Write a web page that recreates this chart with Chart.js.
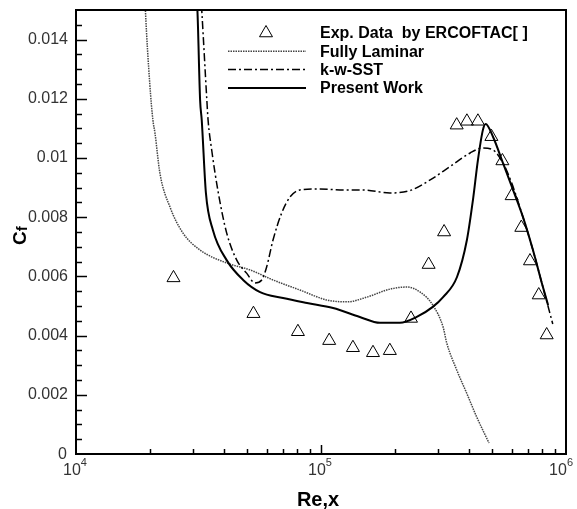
<!DOCTYPE html>
<html>
<head>
<meta charset="utf-8">
<script src="https://cdn.jsdelivr.net/npm/chart.js@4"></script>
<style>
  body { margin: 0; background: #fff; }
  canvas { display: block; }
</style>
</head>
<body>
<canvas id="cfChart" width="577" height="509"></canvas>
<script>
// experiment (ERCOFTAC) skin friction
const expRe = [2.5e4, 5.3e4, 8.05e4, 1.08e5, 1.35e5, 1.63e5, 1.91e5, 2.33e5, 2.75e5, 3.18e5,
  3.58e5, 3.94e5, 4.37e5, 4.96e5, 5.5e5, 6.0e5, 6.57e5, 7.13e5, 7.74e5, 8.34e5];
const expCf = [0.00595, 0.00474, 0.00413, 0.00383, 0.00359, 0.00342, 0.00349, 0.00458, 0.0064, 0.0075,
  0.01111, 0.01124, 0.01124, 0.01072, 0.0099, 0.00872, 0.00765, 0.00652, 0.00537, 0.00402];

// fully laminar run
const lamRe = [1.9e4, 1.92e4, 2.0e4, 2.06e4, 2.1e4, 2.2e4, 2.42e4, 2.73e4, 3.21e4, 4.13e4, 5.13e4,
  6.37e4, 8.2e4, 1.06e5, 1.28e5, 1.54e5, 1.91e5, 2.24e5, 2.54e5, 2.86e5, 3.15e5, 3.26e5,
  3.58e5, 3.93e5, 4.32e5, 4.85e5];
const lamCf = [0.016, 0.015, 0.01252, 0.01128, 0.01085, 0.00949, 0.00834, 0.00747, 0.00689, 0.00645, 0.00622,
  0.00588, 0.00554, 0.0052, 0.00514, 0.0053, 0.00557, 0.00564, 0.00547, 0.00503, 0.00429, 0.00375,
  0.00284, 0.00206, 0.00125, 0.00037];

// k-w-SST
const sstRe = [3.22e4, 3.26e4, 3.42e4, 3.46e4, 3.58e4, 3.81e4, 4.12e4, 4.53e4, 4.97e4, 5.38e4, 5.73e4,
  6.0e4, 6.37e4, 6.91e4, 7.47e4, 8.2e4, 9.6e4, 1.27e5, 1.48e5, 1.91e5, 2.31e5, 2.79e5, 3.36e5,
  4.06e5, 4.58e5, 5.04e5, 5.53e5, 6.0e5, 6.67e5, 7.33e5, 8.05e5, 8.83e5];
const sstCf = [0.0157, 0.015, 0.01196, 0.01128, 0.01027, 0.00882, 0.00747, 0.00655, 0.00611, 0.00578, 0.00588,
  0.00632, 0.00723, 0.00814, 0.00868, 0.00892, 0.00895, 0.00892, 0.00892, 0.00882, 0.0089, 0.00926, 0.00971,
  0.01017, 0.01034, 0.01027, 0.00983, 0.00916, 0.00801, 0.00689, 0.00564, 0.00439];

// present work
const pwRe = [3.08e4, 3.13e4, 3.21e4, 3.26e4, 3.39e4, 3.62e4, 4.12e4, 4.81e4, 5.64e4, 7.0e4, 8.77e4,
  1.12e5, 1.44e5, 1.74e5, 2.1e5, 2.46e5, 2.86e5, 3.15e5, 3.59e5, 3.94e5, 4.17e5, 4.37e5, 4.58e5,
  4.7e5, 5.04e5, 5.53e5, 6.08e5, 6.67e5, 7.33e5, 8.05e5, 8.45e5];
const pwCf = [0.0157, 0.015, 0.01196, 0.01128, 0.00882, 0.00757, 0.00655, 0.00588, 0.00547, 0.00527, 0.0051,
  0.00493, 0.00463, 0.00443, 0.00443, 0.00463, 0.00497, 0.0053, 0.00598, 0.00723, 0.00858, 0.00993, 0.01095,
  0.01115, 0.01071, 0.00983, 0.00892, 0.00801, 0.00689, 0.00564, 0.00503];

const yMajor = [0, 0.002, 0.004, 0.006, 0.008, 0.01, 0.012, 0.014];
const yLabels = ["0", "0.002", "0.004", "0.006", "0.008", "0.01", "0.012", "0.014"];
const xDecades = [4, 5, 6];

function pts(xs, ys) {
  return xs.map((x, i) => ({ x: x, y: ys[i] }));
}

const FONT = "'Liberation Sans', Arial, sans-serif";

// frame, ticks, tick labels, axis titles and legend
const axesPlugin = {
  id: "axesPlugin",
  afterDraw(chart) {
    const ctx = chart.ctx;
    const a = chart.chartArea;
    const xs = chart.scales.x;
    const ys = chart.scales.y;
    ctx.save();
    ctx.strokeStyle = "#000";

    // y ticks every 0.0005, long at 0.002
    ctx.lineWidth = 1.5;
    for (let k = 1; k < 30; k++) {
      const py = Math.round(ys.getPixelForValue(k * 0.0005)) + 0.5;
      const len = k % 4 === 0 ? 11 : 6;
      ctx.beginPath();
      ctx.moveTo(a.left, py);
      ctx.lineTo(a.left + len, py);
      ctx.stroke();
    }
    // x ticks 2..9 per decade, longer at decades
    for (let d = 4; d < 6; d++) {
      for (let m = 1; m < 10; m++) {
        if (m === 1 && d === 4) continue;
        const px = Math.round(xs.getPixelForValue(m * Math.pow(10, d))) + 0.5;
        const len = m === 1 ? 9 : 5;
        ctx.beginPath();
        ctx.moveTo(px, a.bottom);
        ctx.lineTo(px, a.bottom - len);
        ctx.stroke();
      }
    }

    // frame
    ctx.lineWidth = 2;
    ctx.strokeRect(a.left, a.top, a.right - a.left, a.bottom - a.top);

    // y labels
    ctx.fillStyle = "#333";
    ctx.font = "16px " + FONT;
    ctx.textAlign = "right";
    ctx.textBaseline = "middle";
    yMajor.forEach((v, i) => {
      const py = ys.getPixelForValue(v);
      ctx.fillText(yLabels[i], i === 0 ? a.left - 9 : a.left - 8, i === 0 ? py + 1 : py);
    });

    // x labels 10^n
    ctx.textBaseline = "alphabetic";
    ctx.textAlign = "left";
    xDecades.forEach(d => {
      const px = xs.getPixelForValue(Math.pow(10, d));
      ctx.font = "16px " + FONT;
      const w1 = ctx.measureText("10").width;
      ctx.font = "11px " + FONT;
      const w2 = ctx.measureText(String(d)).width;
      const left = Math.min(px - (w1 + w2) / 2 - 1, 573 - w1 - w2);
      ctx.font = "16px " + FONT;
      ctx.fillText("10", left, a.bottom + 21);
      ctx.font = "11px " + FONT;
      ctx.fillText(String(d), left + w1, a.bottom + 12);
    });

    // axis titles
    ctx.fillStyle = "#000";
    ctx.font = "bold 20px " + FONT;
    ctx.textAlign = "center";
    ctx.fillText("Re,x", (a.left + a.right) / 2 - 3, 506);

    ctx.save();
    ctx.translate(26, 245);
    ctx.rotate(-Math.PI / 2);
    ctx.textAlign = "left";
    ctx.font = "bold 19px " + FONT;
    ctx.fillText("C", 0, 0);
    const cw = ctx.measureText("C").width;
    ctx.font = "bold 15px " + FONT;
    ctx.fillText("f", cw, 1);
    ctx.restore();

    // legend
    const x0 = 228, x1 = 306, tx = 320, top = 33, step = 18.3;
    ctx.font = "bold 16px " + FONT;
    ctx.textAlign = "left";
    ctx.textBaseline = "middle";
    chart.data.datasets.forEach((ds, i) => {
      const py = top + i * step;
      if (ds.showLine === false) {
        const r = ds.pointRadius;
        const cx = (x0 + x1) / 2 - 1;
        ctx.lineWidth = 1;
        ctx.strokeStyle = "#000";
        ctx.beginPath();
        ctx.moveTo(cx, py - r);
        ctx.lineTo(cx + r * 0.866, py + r / 2);
        ctx.lineTo(cx - r * 0.866, py + r / 2);
        ctx.closePath();
        ctx.stroke();
      } else {
        ctx.lineWidth = ds.borderWidth;
        ctx.strokeStyle = ds.borderColor;
        ctx.setLineDash(ds.borderDash || []);
        ctx.beginPath();
        ctx.moveTo(x0, py);
        ctx.lineTo(x1, py);
        ctx.stroke();
        ctx.setLineDash([]);
      }
      ctx.fillStyle = "#000";
      ctx.fillText(ds.label, tx, py + 1);
    });
    ctx.restore();
  }
};

const ctx = document.getElementById("cfChart").getContext("2d");
const cfChart = new Chart(ctx, {
  type: "line",
  data: {
    datasets: [
      {
        label: "Exp. Data  by ERCOFTAC[ ]",
        data: pts(expRe, expCf),
        showLine: false,
        pointStyle: "triangle",
        pointRadius: 7.5,
        pointBorderWidth: 1,
        pointBorderColor: "#000",
        pointBackgroundColor: "rgba(255,255,255,0)",
        order: 0
      },
      {
        label: "Fully Laminar",
        data: pts(lamRe, lamCf),
        borderColor: "#444",
        borderWidth: 1.5,
        borderDash: [1.5, 1],
        pointRadius: 0,
        cubicInterpolationMode: "monotone",
        order: 3
      },
      {
        label: "k-w-SST",
        data: pts(sstRe, sstCf),
        borderColor: "#000",
        borderWidth: 1.5,
        borderDash: [8, 3, 2, 3],
        pointRadius: 0,
        cubicInterpolationMode: "monotone",
        order: 2
      },
      {
        label: "Present Work",
        data: pts(pwRe, pwCf),
        borderColor: "#000",
        borderWidth: 2,
        pointRadius: 0,
        cubicInterpolationMode: "monotone",
        order: 1
      }
    ]
  },
  options: {
    responsive: false,
    animation: false,
    devicePixelRatio: 1,
    layout: { padding: { left: 76, top: 10, right: 11, bottom: 55 } },
    plugins: {
      legend: { display: false },
      tooltip: { enabled: false }
    },
    scales: {
      x: { type: "logarithmic", min: 1e4, max: 1e6, display: false },
      y: { type: "linear", min: 0, max: 0.015, display: false }
    }
  },
  plugins: [axesPlugin]
});
</script>
</body>
</html>
